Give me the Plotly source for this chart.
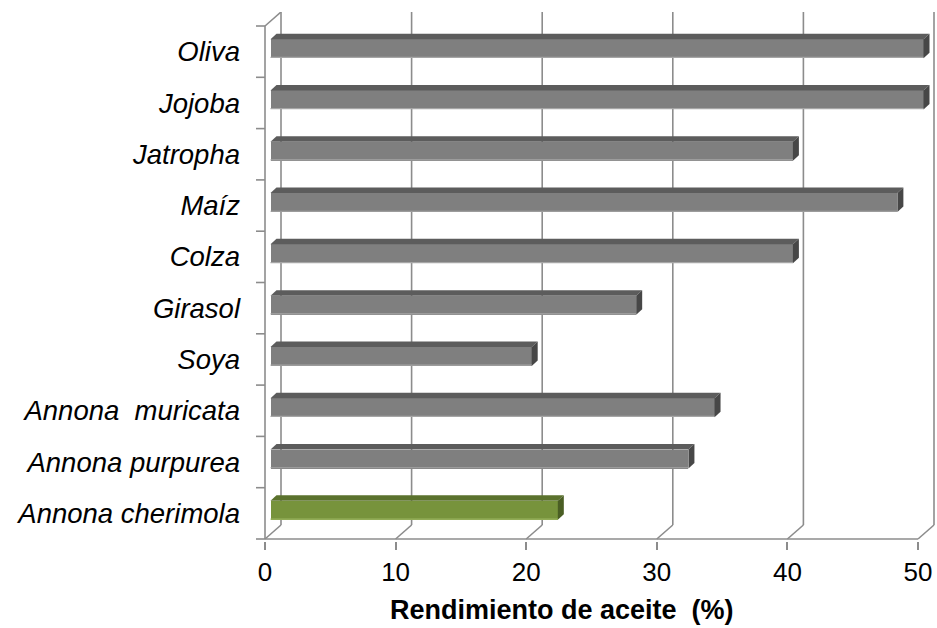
import plotly.graph_objects as go

# Oil yield per species (bottom to top on the chart)
categories = ["Annona cherimola", "Annona purpurea", "Annona\u00a0 muricata", "Soya",
              "Girasol", "Colza", "Maíz", "Jatropha", "Jojoba", "Oliva"]
rendimiento = [22, 32, 34, 20, 28, 40, 48, 40, 50, 50]
x_ticks = [0, 10, 20, 30, 40, 50]
highlighted = "Annona cherimola"
x_title = "Rendimiento de aceite  (%)"

W, H = 937, 628
PX_X = 13.06   # pixels per x unit
PX_Y = 51.3    # pixels per category
PLOT_TOP, PLOT_BOTTOM = 12, 541


def ux(px):
    return px / PX_X


def uy(px):
    return px / PX_Y


n = len(categories)
x_lo, x_hi = -ux(2), ux(672)
y_lo, y_hi = -0.5 - uy(2), -0.5 + uy(527)

# oblique depth of the 3-D box (back wall offset)
DX, DY = ux(16), uy(14)
# bar front face offset and bar depth
FDX, FDY = ux(5.5), uy(3)
BDX, BDY = ux(6), uy(5.5)
HALF = uy(9.5)

AX = "#8c8c8c"
GRAY = dict(front="#7f7f7f", top="#5c5c5c", side="#474747", edge="#a6a6a6")
GREEN = dict(front="#77933c", top="#5b722d", side="#4a5e24", edge="#9bb560")

shapes = []


def line(x0, y0, x1, y1, layer="below", w=1.6, color=AX):
    shapes.append(dict(type="line", xref="x", yref="y", x0=x0, y0=y0, x1=x1, y1=y1,
                       line=dict(color=color, width=w), layer=layer))


# back wall gridlines and floor diagonals
for t in x_ticks:
    line(t + DX, -0.5 + DY, t + DX, n - 0.5 + DY)
    line(t, -0.5, t + DX, -0.5 + DY)
# left wall top edge
line(0, n - 0.5, DX, n - 0.5 + DY)
# front axes
line(0, -0.5, 0, n - 0.5)
line(0, -0.5, x_ticks[-1], -0.5)
# category tick marks on the left
for k in range(n + 1):
    shapes.append(dict(type="line", xref="paper", yref="y",
                       x0=-7 / 674, x1=0.003, y0=k - 0.5, y1=k - 0.5,
                       line=dict(color=AX, width=1.6), layer="below"))

colors = []
for i, (cat, v) in enumerate(zip(categories, rendimiento)):
    pal = GREEN if cat == highlighted else GRAY
    colors.append(pal)
    yc = i + FDY
    yt, yb = yc + HALF, yc - HALF
    x0, x1 = FDX, v + FDX
    top = (f"M {x0},{yt} L {x1},{yt} L {x1 + BDX},{yt + BDY} "
           f"L {x0 + BDX},{yt + BDY} Z")
    side = (f"M {x1},{yb} L {x1},{yt} L {x1 + BDX},{yt + BDY} "
            f"L {x1 + BDX},{yb + BDY} Z")
    shapes.append(dict(type="path", xref="x", yref="y", path=top,
                       fillcolor=pal["top"], line=dict(width=0), layer="above"))
    shapes.append(dict(type="path", xref="x", yref="y", path=side,
                       fillcolor=pal["side"], line=dict(width=0), layer="above"))
    # soft highlight along the lower edge of the front face
    shapes.append(dict(type="line", xref="x", yref="y", x0=x0, x1=x1,
                       y0=yb + uy(0.8), y1=yb + uy(0.8),
                       line=dict(color=pal["edge"], width=1.2), layer="above"))

fig = go.Figure()
fig.add_trace(go.Bar(
    y=[i + FDY for i in range(n)],
    x=rendimiento,
    base=FDX,
    orientation="h",
    width=2 * HALF,
    marker=dict(color=[c["front"] for c in colors], line=dict(width=0)),
    hoverinfo="skip",
    showlegend=False,
))

font = "Liberation Sans, Arial, sans-serif"
plot_w = W - 263
plot_h = PLOT_BOTTOM - PLOT_TOP
fig.update_layout(
    width=W, height=H,
    margin=dict(l=263, r=0, t=PLOT_TOP, b=H - PLOT_BOTTOM, pad=0),
    paper_bgcolor="white", plot_bgcolor="white",
    shapes=shapes,
    bargap=0,
    xaxis=dict(range=[x_lo, x_hi], tickvals=x_ticks, ticks="outside", ticklen=8,
               tickwidth=1.6, tickcolor=AX, showgrid=False, zeroline=False,
               showline=False, tickfont=dict(family=font, size=26, color="black")),
    yaxis=dict(range=[y_lo, y_hi], tickvals=list(range(n)), ticktext=categories,
               ticks="", showgrid=False, zeroline=False, showline=False,
               ticklabelstandoff=22,
               tickfont=dict(family=font, size=27.5, color="black", style="italic")),
    annotations=[dict(
        text=f"<b>{x_title}</b>", xref="paper", yref="paper",
        x=(562 - 263) / plot_w, y=(PLOT_BOTTOM - 610) / plot_h,
        xanchor="center", yanchor="middle", showarrow=False,
        font=dict(family=font, size=27, color="black"),
    )],
)

fig.write_html("out.html")
